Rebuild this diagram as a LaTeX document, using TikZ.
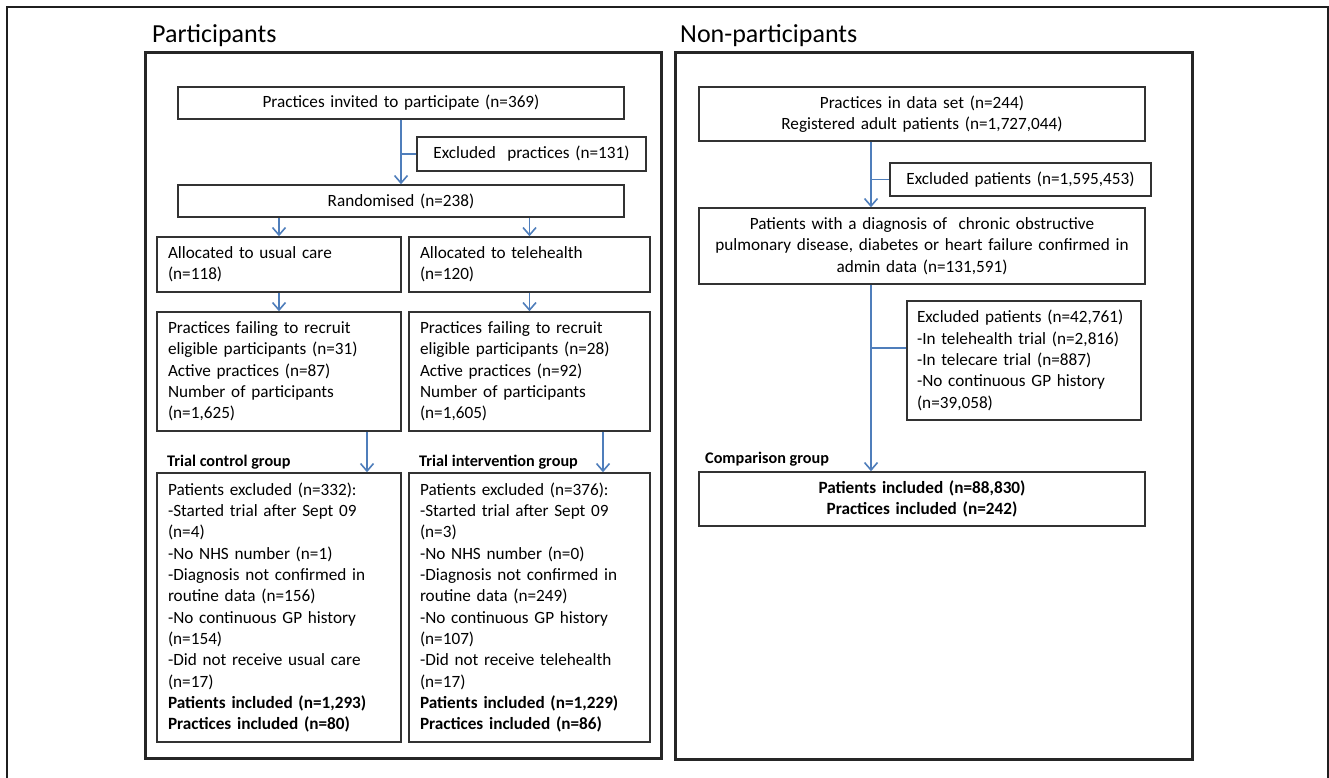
\documentclass[tikz,border=0pt]{standalone}
\usepackage{fontspec}
\setmainfont{Carlito}
\usetikzlibrary{arrows.meta,calc}
\definecolor{arrblue}{RGB}{79,126,187}
\definecolor{boxline}{RGB}{50,50,50}
\tikzset{
  box/.style={draw=boxline, line width=1.5pt, inner xsep=11pt, inner ysep=0pt,
    font=\fontsize{17.2}{21.3}\selectfont},
  cbox/.style={box, align=center},
  lbox/.style={box, align=left},
  panel/.style={draw=black!85, line width=3pt},
  frameline/.style={draw=black!88, line width=2pt},
  ttl/.style={font=\fontsize{26}{30}\selectfont, anchor=base west, inner sep=0pt},
  grp/.style={font=\fontsize{16.2}{19}\selectfont\bfseries, anchor=base west, inner sep=0pt},
  arr/.style={draw=arrblue, line width=1.4pt, -{Straight Barb[length=7.5pt,width=13pt,line width=1.6pt]}},
  brl/.style={draw=arrblue, line width=1.4pt}
}
\begin{document}
\begin{tikzpicture}[x=1pt,y=-1pt]
\useasboundingbox (0,0) rectangle (1329,778);
% outer frame (open at the bottom)
\draw[frameline] (7,778) -- (7,7) -- (1328,7) -- (1328,778);

% ---------------- Participants ----------------
\node[ttl] (titleL) at (152,43) {Participants};
\draw[panel] (145,53) rectangle (661,758);

\node[cbox, minimum width=446pt, minimum height=32pt, text width=424pt] (p1) at (401,103)
  {Practices invited to participate (n=369)};
\node[cbox, minimum width=229pt, minimum height=34pt, text width=207pt] (ex1) at (531.5,154)
  {Excluded\ \ practices (n=131)};
\node[cbox, minimum width=446pt, minimum height=32pt, text width=424pt] (rand) at (401,201)
  {Randomised (n=238)};

\node[lbox, minimum width=244pt, minimum height=55pt, text width=222pt] (allocL) at (279,264.5)
  {Allocated to usual care\\(n=118)};
\node[lbox, minimum width=241pt, minimum height=55pt, text width=219pt] (allocR) at (529.5,264.5)
  {Allocated to telehealth\\(n=120)};

\node[lbox, minimum width=244pt, minimum height=119pt, text width=222pt] (failL) at (279,371.5)
  {Practices failing to recruit\\eligible participants (n=31)\\Active practices (n=87)\\Number of participants\\(n=1,625)};
\node[lbox, minimum width=241pt, minimum height=119pt, text width=219pt] (failR) at (529.5,371.5)
  {Practices failing to recruit\\eligible participants (n=28)\\Active practices (n=92)\\Number of participants\\(n=1,605)};

\node[grp] (gctl) at (167,466) {Trial control group};
\node[grp] (gint) at (419,466) {Trial intervention group};

\node[lbox, minimum width=244pt, minimum height=269pt, text width=222pt] (botL) at (279,607.5)
  {Patients excluded (n=332):\\-Started trial after Sept 09\\(n=4)\\-No NHS number (n=1)\\-Diagnosis not confirmed in\\routine data (n=156)\\-No continuous GP history\\(n=154)\\-Did not receive usual care\\(n=17)\\\textbf{Patients included (n=1,293)}\\\textbf{Practices included (n=80)}};
\node[lbox, minimum width=241pt, minimum height=269pt, text width=219pt] (botR) at (529.5,607.5)
  {Patients excluded (n=376):\\-Started trial after Sept 09\\(n=3)\\-No NHS number (n=0)\\-Diagnosis not confirmed in\\routine data (n=249)\\-No continuous GP history\\(n=107)\\-Did not receive telehealth\\(n=17)\\\textbf{Patients included (n=1,229)}\\\textbf{Practices included (n=86)}};

% connectors left
\draw[arr] (p1.south) -- (rand.north);
\draw[brl] (ex1.west) -- (ex1.west -| p1.south);
\draw[arr] (allocL.north |- rand.south) -- (allocL.north);
\draw[arr] (allocR.north |- rand.south) -- (allocR.north);
\draw[arr] (allocL.south) -- (failL.north);
\draw[arr] (allocR.south) -- (failR.north);
\draw[arr] ([xshift=88pt]failL.south) -- ([xshift=88pt]botL.north);
\draw[arr] ([xshift=73.5pt]failR.south) -- ([xshift=73.5pt]botR.north);

% ---------------- Non-participants ----------------
\node[ttl] (titleR) at (680,43) {Non-participants};
\draw[panel] (675,53) rectangle (1192,759);

\node[cbox, minimum width=446pt, minimum height=54pt, text width=424pt] (q1) at (922,114)
  {Practices in data set (n=244)\\Registered adult patients (n=1,727,044)};
\node[cbox, minimum width=261pt, minimum height=33pt, text width=239pt] (qex1) at (1020.5,179.5)
  {Excluded patients (n=1,595,453)};
\node[cbox, minimum width=446pt, minimum height=76pt, text width=430pt, inner xsep=8pt] (q2) at (922,246)
  {Patients with a diagnosis of\ \ chronic obstructive\\pulmonary disease, diabetes or heart failure confirmed in\\admin data (n=131,591)};
\node[lbox, minimum width=234pt, minimum height=119pt, text width=220pt, inner xsep=7pt] (qex2) at (1024,360.5)
  {\hspace*{3pt}Excluded patients (n=42,761)\\\hspace*{3pt}-In telehealth trial (n=2,816)\\\hspace*{3pt}-In telecare trial (n=887)\\\hspace*{3pt}-No continuous GP history\\\hspace*{3pt}(n=39,058)};
\node[grp] (gcmp) at (705,463) {Comparison group};
\node[cbox, minimum width=446pt, minimum height=54pt, text width=424pt] (q3) at (922,499)
  {\textbf{Patients included (n=88,830)}\\\textbf{Practices included (n=242)}};

% connector end points on the right-hand trunk
\coordinate (t1) at ([xshift=-51pt]q1.south);
\coordinate (t2) at ([xshift=-51pt]q2.north);
\coordinate (t3) at ([xshift=-51pt]q2.south);
\coordinate (t4) at ([xshift=-51pt]q3.north);
\coordinate (b2) at ([yshift=12.5pt]qex2.west);

% connectors right
\draw[arr] (t1) -- (t2);
\draw[brl] (qex1.west) -- (qex1.west -| t1);
\draw[arr] (t3) -- (t4);
\draw[brl] (b2) -- (b2 -| t3);
\end{tikzpicture}
\end{document}
